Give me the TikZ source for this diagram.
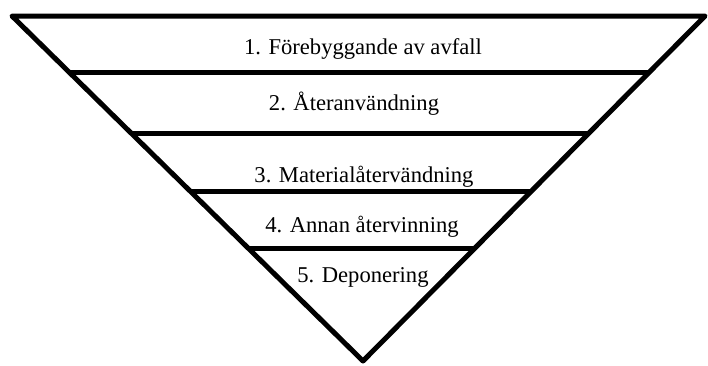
\documentclass[tikz,border=0pt]{standalone}
\usepackage{fontspec}
\newfontfamily\timesfont{Liberation Serif}
\usetikzlibrary{calc}
\begin{document}
\begin{tikzpicture}[x=1pt,y=-1pt,
  edge/.style={line width=5pt,line join=round,line cap=butt},
  lbl/.style={anchor=base,inner sep=0pt,font=\timesfont\fontsize{22.6}{24}\selectfont}]
\useasboundingbox (0,0) rectangle (708,365);
\coordinate (L) at (12,16);
\coordinate (R) at (705,16);
\coordinate (A) at (363,361);
\draw[edge] (L) -- (R) -- (A) -- cycle;
\foreach \t/\n in {0.1633/a,0.3396/b,0.5087/c,0.6734/d}{
  \coordinate (l\n) at ($(L)!\t!(A)$);
  \coordinate (r\n) at ($(R)!\t!(A)$);
  \draw[edge] (l\n) -- (r\n);
}
\node[lbl] (t1) at (363,54) {1. Förebyggande av avfall};
\node[lbl] (t2) at (354,110) {2. Återanvändning};
\node[lbl] (t3) at (364,182) {3. Materialåtervändning};
\node[lbl] (t4) at (362,232) {4. Annan återvinning};
\node[lbl] (t5) at (363,282) {5. Deponering};
\end{tikzpicture}
\end{document}
